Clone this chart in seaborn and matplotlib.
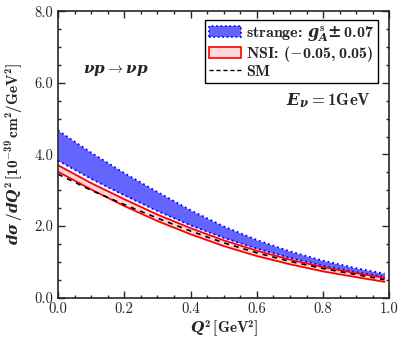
import numpy as np
import pandas as pd
import matplotlib
matplotlib.use('Agg')
import matplotlib.pyplot as plt
import seaborn as sns
from matplotlib.patches import Patch
from matplotlib.lines import Line2D
from matplotlib.ticker import MultipleLocator, FormatStrFormatter

# values
q2 = [0.0, 0.1, 0.2, 0.3, 0.4, 0.5, 0.6, 0.7, 0.8, 0.9, 0.985]
strange_hi = [4.67, 4.05, 3.48, 2.95, 2.44, 1.99, 1.61, 1.29, 1.03, 0.82, 0.67]
strange_lo = [3.83, 3.32, 2.86, 2.42, 2.02, 1.67, 1.37, 1.11, 0.89, 0.71, 0.58]
nsi_hi = [3.70, 3.20, 2.75, 2.32, 1.94, 1.60, 1.31, 1.06, 0.85, 0.68, 0.55]
nsi_lo = [3.52, 3.02, 2.56, 2.14, 1.77, 1.44, 1.16, 0.93, 0.73, 0.57, 0.44]
sm = [3.45, 3.00, 2.60, 2.22, 1.86, 1.53, 1.25, 1.01, 0.81, 0.64, 0.50]

df = pd.DataFrame({'Q2': q2, 'shi': strange_hi, 'slo': strange_lo,
                   'nhi': nsi_hi, 'nlo': nsi_lo, 'sm': sm})

sns.set_style('ticks')
plt.rcParams['font.family'] = ['cmr10']
plt.rcParams['mathtext.fontset'] = 'custom'
plt.rcParams['mathtext.rm'] = 'cmb10'
plt.rcParams['mathtext.bf'] = 'cmb10'
plt.rcParams['mathtext.sf'] = 'DejaVu Serif:bold'
plt.rcParams['mathtext.it'] = 'DejaVu Serif:italic:bold'
plt.rcParams['axes.formatter.use_mathtext'] = False

fig = plt.figure(figsize=(4.07, 3.46), dpi=100)
ax = fig.add_axes([0.1425, 0.140, 0.8145, 0.827])

blue_fill = '#6464ff'
ax.fill_between(df['Q2'], df['slo'], df['shi'], color=blue_fill, lw=0)
sns.lineplot(data=df, x='Q2', y='shi', ax=ax, color='#0000ff', lw=1.3, ls=':')
sns.lineplot(data=df, x='Q2', y='slo', ax=ax, color='#0000ff', lw=1.3, ls=':')

ax.fill_between(df['Q2'], df['nlo'], df['nhi'], color='#ffd8d8', lw=0)
sns.lineplot(data=df, x='Q2', y='nhi', ax=ax, color='red', lw=1.3)
sns.lineplot(data=df, x='Q2', y='nlo', ax=ax, color='red', lw=1.3)
sns.lineplot(data=df, x='Q2', y='sm', ax=ax, color='black', lw=1.2, ls=(0, (3, 3)))

ax.set_xlim(0, 1.0)
ax.set_ylim(0, 8.0)
ax.xaxis.set_major_locator(MultipleLocator(0.2))
ax.xaxis.set_minor_locator(MultipleLocator(0.05))
ax.yaxis.set_major_locator(MultipleLocator(2.0))
ax.yaxis.set_minor_locator(MultipleLocator(0.5))
ax.xaxis.set_major_formatter(FormatStrFormatter('%.1f'))
ax.yaxis.set_major_formatter(FormatStrFormatter('%.1f'))
ax.tick_params(which='both', direction='in', top=True, right=True, labelsize=10.5, width=1.0)
ax.tick_params(which='major', length=5)
ax.tick_params(which='minor', length=2.5)
for s in ax.spines.values():
    s.set_linewidth(1.2)

ax.set_xlabel(r'$Q^2\,[\mathrm{GeV}^2]$', fontsize=11, labelpad=2)
ax.set_ylabel(r'$d\sigma\,/dQ^2\,[10^{-39}\,\mathrm{cm}^2/\mathrm{GeV}^2]$', fontsize=11, labelpad=6)

ax.text(0.175, 6.34, r'$\nu p \rightarrow \nu p$', fontsize=11, ha='center', va='center')
ax.text(0.945, 5.5, r'$E_\nu = 1\mathrm{GeV}$', fontsize=12, ha='right', va='center')

handles = [Patch(facecolor=blue_fill, edgecolor='#0000ff', ls=':', lw=1.2),
           Patch(facecolor='#ffd8d8', edgecolor='red', lw=1.2),
           Line2D([], [], color='black', ls=(0, (3, 2)), lw=1.0)]
labels = [r'strange: $g^{\mathrm{s}}_{A}\mathsf{\pm}\, 0.07$', r'NSI: $(-0.05, 0.05)$', 'SM']
leg = ax.legend(handles, labels, loc='upper right', bbox_to_anchor=(0.965, 0.97),
                prop={'family': 'cmb10', 'size': 11.5}, frameon=True, fancybox=False,
                edgecolor='black', framealpha=1, handlelength=2.0, handletextpad=0.3,
                borderpad=0.25, labelspacing=0.02, borderaxespad=0)
leg.get_frame().set_linewidth(1.0)

fig.savefig('out.png', dpi=100)
